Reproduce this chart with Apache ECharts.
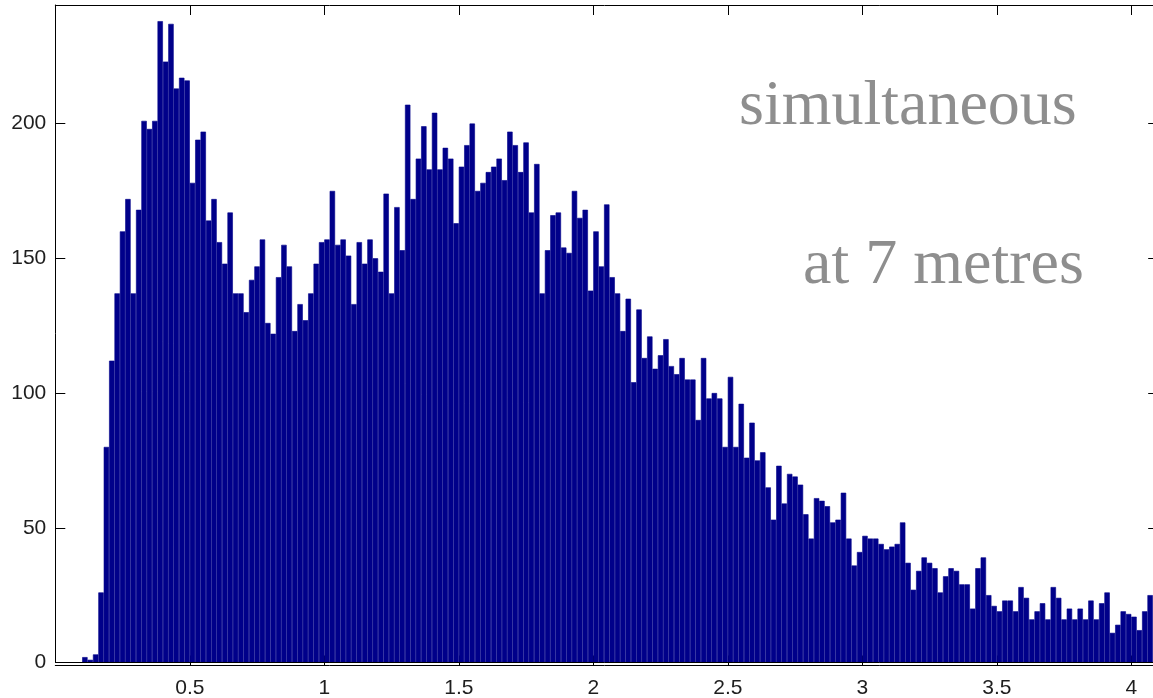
<!DOCTYPE html>
<html>
<head>
<meta charset="utf-8">
<script src="https://cdn.jsdelivr.net/npm/echarts@6/dist/echarts.min.js"></script>
<style>
html,body{margin:0;padding:0;background:#ffffff;}
#chart{width:1153px;height:698px;}
</style>
</head>
<body>
<div id="chart"></div>
<script>
// ---- data ----
const BIN_START = 0.10;   // left edge of first bin
const BIN_WIDTH = 0.02;   // bin width
const counts = [
  2, 1, 3, 26, 80, 112, 137, 160, 172, 137,
  168, 201, 198, 201, 238, 223, 237, 213, 217, 216,
  178, 194, 197, 164, 172, 156, 148, 167, 137, 137,
  130, 142, 147, 157, 126, 122, 143, 155, 147, 123,
  133, 127, 137, 148, 156, 157, 175, 155, 157, 151,
  133, 156, 148, 157, 150, 145, 174, 137, 169, 153,
  207, 172, 187, 199, 183, 204, 183, 191, 187, 163,
  184, 192, 200, 175, 178, 182, 184, 187, 179, 197,
  192, 182, 193, 167, 185, 137, 153, 166, 167, 154,
  152, 175, 165, 168, 138, 160, 147, 170, 143, 137,
  123, 135, 104, 131, 113, 121, 109, 114, 120, 110,
  107, 113, 105, 105, 90, 113, 98, 100, 98, 80,
  106, 80, 96, 76, 89, 75, 78, 65, 53, 73,
  59, 70, 69, 66, 55, 46, 61, 60, 58, 52,
  53, 63, 46, 36, 41, 47, 46, 46, 44, 42,
  43, 44, 52, 37, 27, 34, 39, 37, 35, 26,
  32, 35, 34, 29, 29, 20, 35, 39, 25, 21,
  19, 23, 23, 19, 28, 24, 16, 19, 22, 16,
  28, 24, 16, 20, 16, 20, 16, 23, 16, 22,
  26, 11, 14, 19, 18, 17, 12, 19, 25
];
const X_MIN = 0, X_MAX = 4.1, X_STEP = 0.5;
const Y_MIN = 0, Y_MAX = 244, Y_STEP = 50;
const annotations = ['simultaneous', 'at 7 metres'];

// ---- build ----
const W = 1153, H = 698;
const PX_PER_UNIT = 269;
const GRID = {left: 55.3, top: 5, bottom: 35.5};
GRID.right = W - (GRID.left + PX_PER_UNIT * (X_MAX - X_MIN));   // plot runs past the right edge
const barData = counts.map((v, i) => [+(BIN_START + BIN_WIDTH * (i + 0.5)).toFixed(4), v]);

const axisLineStyle = {color: '#000', width: 1};
const labelStyle = {color: '#1e1e1e', fontFamily: '"Liberation Sans", Arial, Helvetica, sans-serif', fontSize: 21};

const chart = echarts.init(document.getElementById('chart'), null, {renderer: 'canvas'});
chart.setOption({
  animation: false,
  backgroundColor: '#ffffff',
  grid: {left: GRID.left, right: GRID.right, top: GRID.top, bottom: GRID.bottom,
         containLabel: false, outerBoundsMode: 'none'},
  xAxis: [
    {
      type: 'value', min: X_MIN, max: X_MAX, interval: X_STEP, position: 'bottom', offset: 3,
      axisLine: {show: true, onZero: false, lineStyle: axisLineStyle},
      axisTick: {show: true, inside: true, length: 10, lineStyle: axisLineStyle},
      axisLabel: Object.assign({show: true, margin: 12, showMinLabel: false, showMaxLabel: false, hideOverlap: false}, labelStyle),
      splitLine: {show: false}
    },
    {
      type: 'value', min: X_MIN, max: X_MAX, interval: X_STEP, position: 'top',
      axisLine: {show: true, onZero: false, lineStyle: axisLineStyle},
      axisTick: {show: true, inside: true, length: 10, lineStyle: axisLineStyle},
      axisLabel: {show: false},
      splitLine: {show: false}
    }
  ],
  yAxis: [
    {
      type: 'value', min: Y_MIN, max: Y_MAX, interval: Y_STEP, position: 'left',
      axisLine: {show: true, onZero: false, lineStyle: axisLineStyle},
      axisTick: {show: true, inside: true, length: 10, lineStyle: axisLineStyle},
      axisLabel: Object.assign({show: true, margin: 9, showMaxLabel: false}, labelStyle),
      splitLine: {show: false}
    },
    {
      type: 'value', min: Y_MIN, max: Y_MAX, interval: Y_STEP, position: 'right',
      axisLine: {show: true, onZero: false, lineStyle: axisLineStyle},
      axisTick: {show: true, inside: true, length: 10, lineStyle: axisLineStyle},
      axisLabel: {show: false},
      splitLine: {show: false}
    }
  ],
  series: [{
    type: 'bar',
    xAxisIndex: 0, yAxisIndex: 0,
    data: barData,
    barWidth: PX_PER_UNIT * BIN_WIDTH,
    itemStyle: {color: '#00008a', borderColor: '#00008a', borderWidth: 0.6},
    emphasis: {disabled: true},
    markLine: {
      silent: true, symbol: 'none', animation: false,
      label: {show: false},
      lineStyle: {color: '#000', width: 1, type: 'solid'},
      data: [{yAxis: 0}]
    }
  }],
  graphic: [
    {type: 'text', x: 739, y: 107, silent: true,
     style: {text: annotations[0], font: '64px "Liberation Serif", "Times New Roman", serif', fill: '#8e8e8e', align: 'left', verticalAlign: 'middle'}},
    {type: 'text', x: 803, y: 266, silent: true,
     style: {text: annotations[1], font: '64px "Liberation Serif", "Times New Roman", serif', fill: '#8e8e8e', align: 'left', verticalAlign: 'middle'}}
  ]
});
</script>
</body>
</html>
